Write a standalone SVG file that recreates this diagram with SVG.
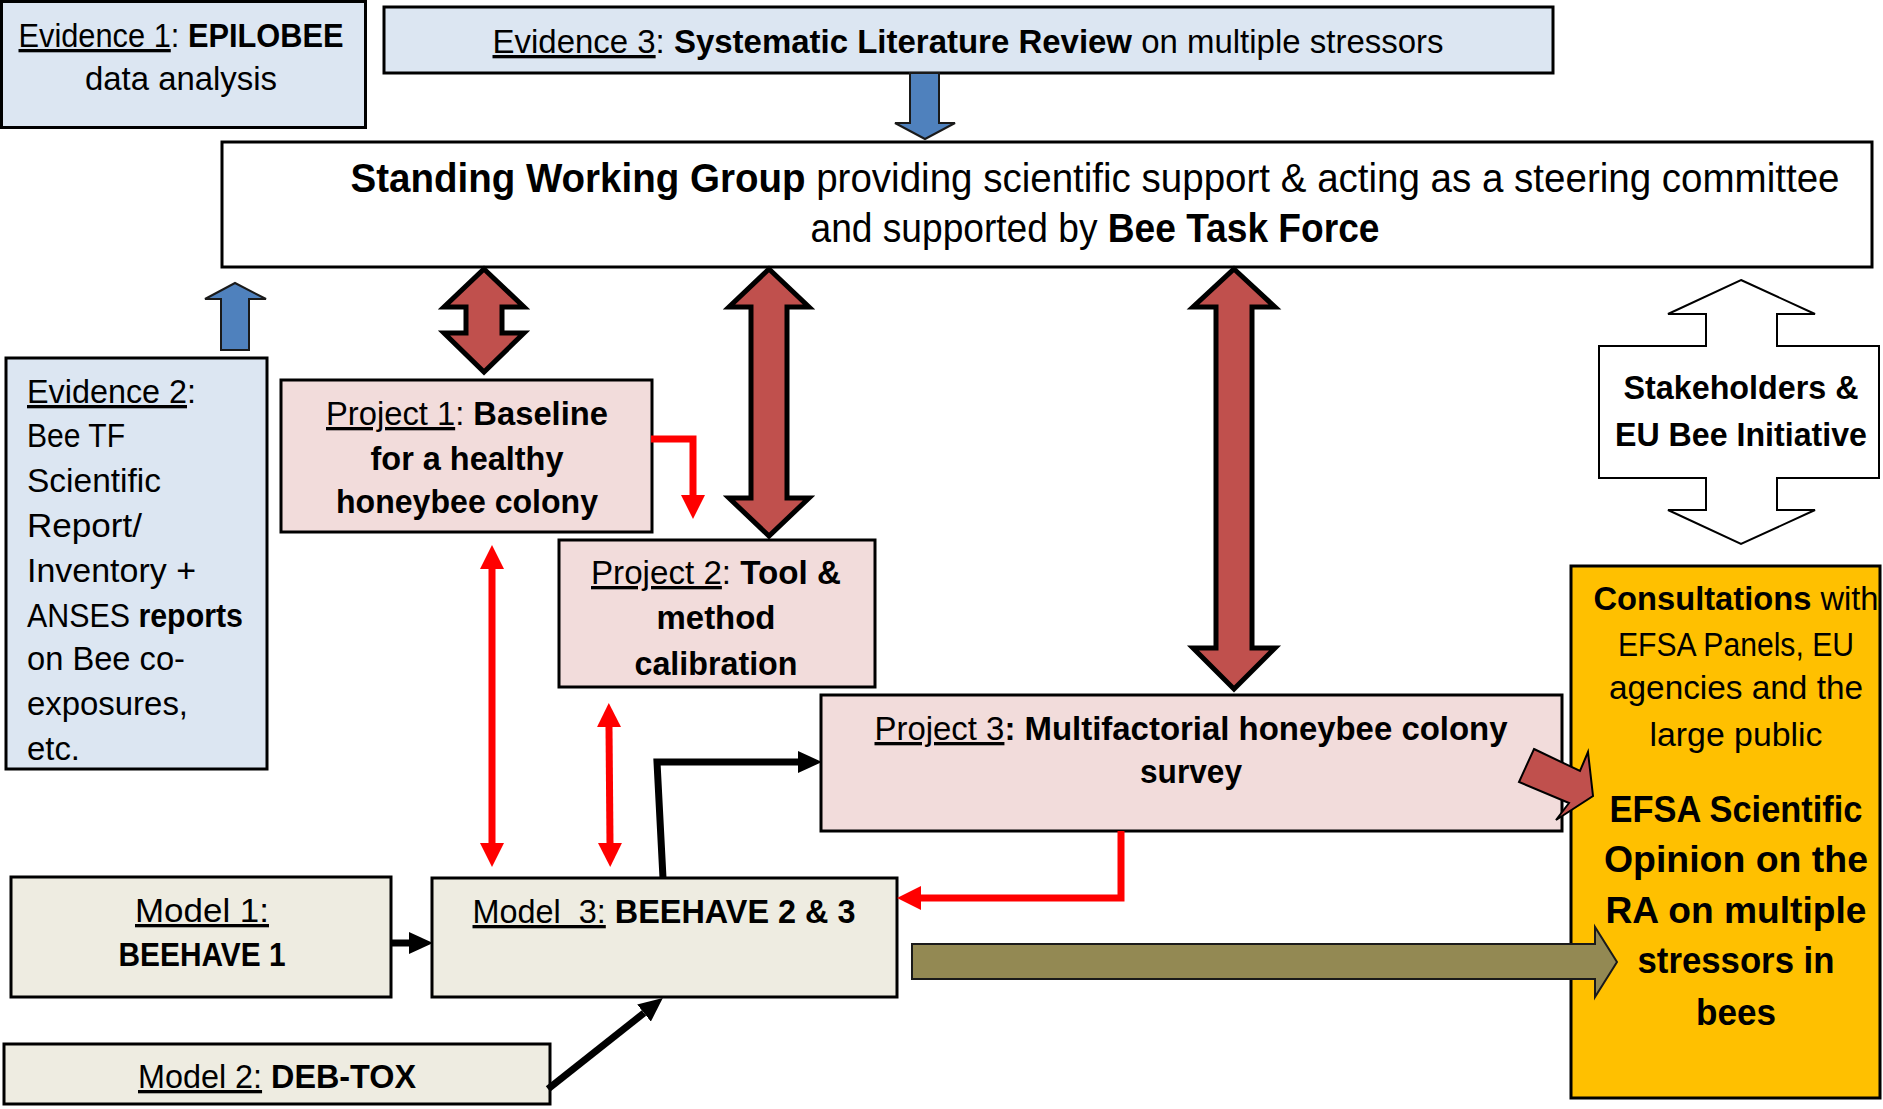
<svg xmlns="http://www.w3.org/2000/svg" width="1883" height="1109" viewBox="0 0 1883 1109">
<style>
.box{stroke:#000;stroke-width:3}
.ev{fill:#DCE6F2}
.pr{fill:#F2DCDB}
.md{fill:#EEECE1}
.yl{fill:#FFC000}
.t{font-family:"Liberation Sans",Arial,sans-serif;font-size:33px;fill:#000}
.c{text-anchor:middle}
.b{font-weight:bold}
.u{text-decoration:underline}
.big{font-size:40px}
.efsa{font-size:37px}
.bigred{fill:#C0504D;stroke:#000;stroke-width:5;stroke-linejoin:miter}
.blue{fill:#4F81BD;stroke:#1a1a1a;stroke-width:2}
.rl{fill:none;stroke:#FF0000;stroke-width:7}
.bl{fill:none;stroke:#000;stroke-width:7}
</style>
<defs>
<marker id="rh" markerUnits="userSpaceOnUse" viewBox="0 0 24 24" markerWidth="24" markerHeight="24" refX="0" refY="12" orient="auto-start-reverse"><path d="M0,0 L24,12 L0,24 z" fill="#FF0000"/></marker>
<marker id="bh" markerUnits="userSpaceOnUse" viewBox="0 0 24 22" markerWidth="24" markerHeight="22" refX="0" refY="11" orient="auto"><path d="M0,0 L24,11 L0,22 z" fill="#000"/></marker>
</defs>

<g id="evidence1">
<rect class="box ev" x="1.5" y="1.5" width="364" height="126"/>
<text class="t c" x="181" y="47" textLength="325" lengthAdjust="spacingAndGlyphs"><tspan class="u">Evidence 1</tspan>: <tspan class="b">EPILOBEE</tspan></text>
<text class="t c" x="181" y="90" textLength="192" lengthAdjust="spacingAndGlyphs">data analysis</text>
</g>

<g id="evidence3">
<rect class="box ev" x="384" y="7" width="1169" height="66"/>
<text class="t c" x="968" y="53" textLength="951" lengthAdjust="spacingAndGlyphs"><tspan class="u">Evidence 3</tspan>: <tspan class="b">Systematic Literature Review</tspan> on multiple stressors</text>
</g>

<g id="swg">
<rect class="box" fill="#fff" x="222" y="142" width="1650" height="125"/>
<text class="t c big" x="1095" y="192" textLength="1489" lengthAdjust="spacingAndGlyphs"><tspan class="b">Standing Working Group</tspan> providing scientific support &amp; acting as a steering committee</text>
<text class="t c big" x="1095" y="242" textLength="569" lengthAdjust="spacingAndGlyphs">and supported by <tspan class="b">Bee Task Force</tspan></text>
</g>

<g id="evidence2">
<rect class="box ev" x="6" y="358" width="261" height="411"/>
<text class="t" x="27" y="403" textLength="169" lengthAdjust="spacingAndGlyphs"><tspan class="u">Evidence 2</tspan>:</text>
<text class="t" x="27" y="447" textLength="98" lengthAdjust="spacingAndGlyphs">Bee TF</text>
<text class="t" x="27" y="492" textLength="134" lengthAdjust="spacingAndGlyphs">Scientific</text>
<text class="t" x="27" y="537" textLength="115" lengthAdjust="spacingAndGlyphs">Report/</text>
<text class="t" x="27" y="582" textLength="169" lengthAdjust="spacingAndGlyphs">Inventory +</text>
<text class="t" x="27" y="627" textLength="216" lengthAdjust="spacingAndGlyphs">ANSES <tspan class="b">reports</tspan></text>
<text class="t" x="27" y="670" textLength="158" lengthAdjust="spacingAndGlyphs">on Bee co-</text>
<text class="t" x="27" y="715" textLength="161" lengthAdjust="spacingAndGlyphs">exposures,</text>
<text class="t" x="27" y="760" textLength="53" lengthAdjust="spacingAndGlyphs">etc.</text>
</g>

<g id="project1">
<rect class="box pr" x="281" y="380" width="371" height="152"/>
<text class="t c" x="467" y="425" textLength="282" lengthAdjust="spacingAndGlyphs"><tspan class="u">Project 1</tspan>: <tspan class="b">Baseline</tspan></text>
<text class="t c b" x="467" y="470" textLength="193" lengthAdjust="spacingAndGlyphs">for a healthy</text>
<text class="t c b" x="467" y="513" textLength="262" lengthAdjust="spacingAndGlyphs">honeybee colony</text>
</g>

<g id="project2">
<rect class="box pr" x="559" y="540" width="316" height="147"/>
<text class="t c" x="716" y="584" textLength="250" lengthAdjust="spacingAndGlyphs"><tspan class="u">Project 2</tspan>: <tspan class="b">Tool &amp;</tspan></text>
<text class="t c b" x="716" y="629" textLength="119" lengthAdjust="spacingAndGlyphs">method</text>
<text class="t c b" x="716" y="675" textLength="163" lengthAdjust="spacingAndGlyphs">calibration</text>
</g>

<g id="project3">
<rect class="box pr" x="821" y="695" width="741" height="136"/>
<text class="t c" x="1191" y="740" textLength="633" lengthAdjust="spacingAndGlyphs"><tspan class="u">Project 3</tspan><tspan class="b">: Multifactorial honeybee colony</tspan></text>
<text class="t c b" x="1191" y="783" textLength="102" lengthAdjust="spacingAndGlyphs">survey</text>
</g>

<g id="stakeholders">
<polygon fill="#fff" stroke="#000" stroke-width="2" points="1741,280 1815,314 1777,314 1777,346 1879,346 1879,478 1777,478 1777,510 1815,510 1741,544 1668,510 1706,510 1706,478 1599,478 1599,346 1706,346 1706,314 1668,314"/>
<text class="t c b" x="1741" y="399" textLength="235" lengthAdjust="spacingAndGlyphs">Stakeholders &amp;</text>
<text class="t c b" x="1741" y="446" textLength="252" lengthAdjust="spacingAndGlyphs">EU Bee Initiative</text>
</g>

<g id="efsa">
<rect class="box yl" x="1571" y="566" width="309" height="532"/>
<text class="t c" x="1736" y="610" textLength="285" lengthAdjust="spacingAndGlyphs"><tspan class="b">Consultations</tspan> with</text>
<text class="t c" x="1736" y="656" textLength="236" lengthAdjust="spacingAndGlyphs">EFSA Panels, EU</text>
<text class="t c" x="1736" y="699" textLength="254" lengthAdjust="spacingAndGlyphs">agencies and the</text>
<text class="t c" x="1736" y="746" textLength="173" lengthAdjust="spacingAndGlyphs">large public</text>
<text class="t c b efsa" x="1736" y="822" textLength="253" lengthAdjust="spacingAndGlyphs">EFSA Scientific</text>
<text class="t c b efsa" x="1736" y="872" textLength="264" lengthAdjust="spacingAndGlyphs">Opinion on the</text>
<text class="t c b efsa" x="1736" y="923" textLength="261" lengthAdjust="spacingAndGlyphs">RA on multiple</text>
<text class="t c b efsa" x="1736" y="973" textLength="197" lengthAdjust="spacingAndGlyphs">stressors in</text>
<text class="t c b efsa" x="1736" y="1025" textLength="80" lengthAdjust="spacingAndGlyphs">bees</text>
</g>

<g id="model1">
<rect class="box md" x="11" y="877" width="380" height="120"/>
<text class="t c" x="202" y="922" textLength="134" lengthAdjust="spacingAndGlyphs"><tspan class="u">Model 1:</tspan></text>
<text class="t c b" x="202" y="966" textLength="167" lengthAdjust="spacingAndGlyphs">BEEHAVE 1</text>
</g>

<g id="model3">
<rect class="box md" x="432" y="878" width="465" height="119"/>
<text class="t c" x="664" y="923" textLength="383" lengthAdjust="spacingAndGlyphs"><tspan class="u">Model&#160; 3:</tspan> <tspan class="b">BEEHAVE 2 &amp; 3</tspan></text>
</g>

<g id="model2">
<rect class="box md" x="4" y="1044" width="546" height="60"/>
<text class="t c" x="277" y="1088" textLength="278" lengthAdjust="spacingAndGlyphs"><tspan class="u">Model 2:</tspan> <tspan class="b">DEB-TOX</tspan></text>
</g>

<g id="connectors">
<polygon class="blue" points="910,73 939,73 939,123 955,123 925,139 895,123 910,123"/>
<polygon class="blue" points="235,283 266,299 249,299 249,350 221,350 221,299 205,299"/>
<polygon class="bigred" points="484,269 524,307 502,307 502,333 524,333 484,372 444,333 466,333 466,307 444,307"/>
<polygon class="bigred" points="769,269 809,307 787,307 787,498 809,498 769,536 729,498 751,498 751,307 729,307"/>
<polygon class="bigred" points="1234,269 1275,307 1252,307 1252,648 1275,648 1234,689 1193,648 1216,648 1216,307 1193,307"/>
<path class="rl" d="M651,439 H693 V495" stroke-linejoin="miter" marker-end="url(#rh)"/>
<line class="rl" x1="492" y1="569" x2="492" y2="843" marker-start="url(#rh)" marker-end="url(#rh)"/>
<line class="rl" x1="609" y1="727" x2="610" y2="843" marker-start="url(#rh)" marker-end="url(#rh)"/>
<path class="rl" d="M1121,831 V898 H921" stroke-linejoin="miter" marker-end="url(#rh)"/>
<path class="bl" d="M663,878 L657,762 H798" stroke-linejoin="miter" marker-end="url(#bh)"/>
<line class="bl" x1="391" y1="943" x2="409" y2="943" stroke-width="8" marker-end="url(#bh)"/>
<line class="bl" x1="548" y1="1089" x2="644" y2="1013" marker-end="url(#bh)"/>
<polygon fill="#938953" stroke="#1a1a1a" stroke-width="2" points="912,944 1595,944 1595,927 1617,962 1595,997 1595,979 912,979"/>
<polygon fill="#C0504D" stroke="#000" stroke-width="2" points="1534,749 1580,771 1588,752 1593,796 1556,820 1569,803 1519,782"/>
</g>
</svg>
